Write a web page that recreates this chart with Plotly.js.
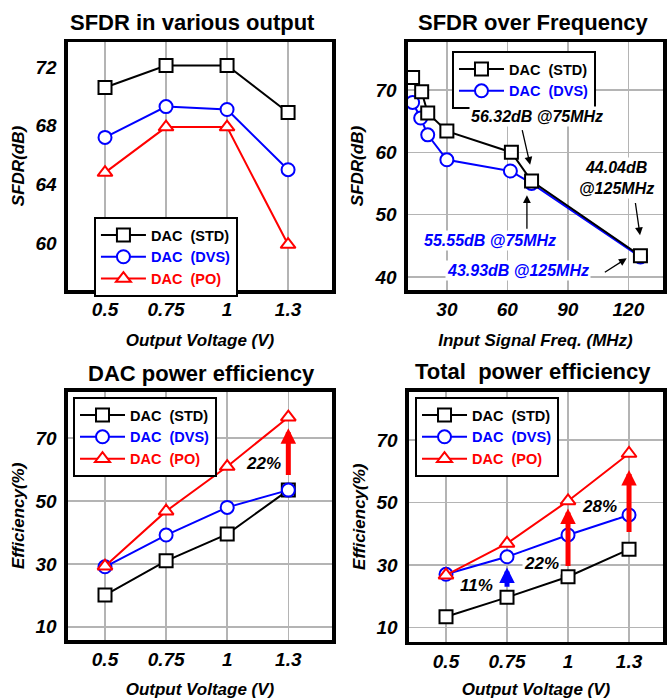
<!DOCTYPE html>
<html>
<head>
<meta charset="utf-8">
<script src="https://cdn.plot.ly/plotly-3.0.1.min.js"></script>
<style>html,body{margin:0;padding:0;background:#fff;}#chart{width:671px;height:699px;}</style>
</head>
<body>
<div id="chart"></div>
<script>
// ---------- data ----------
const volt = ['0.5', '0.75', '1', '1.3'];
const seriesNames = ['DAC\u00a0\u00a0(STD)', 'DAC\u00a0\u00a0(DVS)', 'DAC\u00a0\u00a0(PO)'];

// SFDR in various output (dB)
const sfdrStd = [70.6, 72.1, 72.1, 68.9];
const sfdrDvs = [67.2, 69.3, 69.1, 65.0];
const sfdrPo  = [64.8, 67.9, 67.9, 59.9];

// SFDR over frequency
const freqStd = [13, 17.5, 20.5, 30, 62, 72, 126];
const sfdrFreqStd = [72.0, 69.7, 66.3, 63.4, 60.0, 55.4, 43.4];
const freqDvs = [13, 17, 20.5, 30, 61.5, 72, 126];
const sfdrFreqDvs = [68.0, 65.5, 62.8, 58.8, 57.0, 55.0, 43.2];

// DAC power efficiency (%)
const dacEffStd = [20.1, 31.0, 39.5, 53.5];
const dacEffDvs = [29.1, 39.2, 48.0, 53.5];
const dacEffPo  = [29.3, 46.8, 61.0, 76.7];

// Total power efficiency (%)
const totEffStd = [13.4, 19.6, 26.2, 35.0];
const totEffDvs = [27.0, 32.6, 39.6, 46.0];
const totEffPo  = [26.7, 36.9, 50.5, 65.7];

// subplot titles
const panelTitles = ['SFDR in various output', 'SFDR over Frequency', 'DAC power efficiency', 'Total\u00a0\u00a0power efficiency'];

// SFDR-over-frequency callouts
const calloutText = ['56.32dB @75MHz', '44.04dB<br>@125MHz', '55.55dB @75MHz', '43.93dB @125MHz'];
const calloutX = [74.6, 114.3, 51.2, 65.5];
const calloutY = [65.7, 55.9, 45.8, 41.0];
const calloutColor = ['black', 'black', 'blue', 'blue'];
const pointerHeadX = [71.3, 69.7, 125.8, 119.2];
const pointerHeadY = [58.0, 53.1, 46.7, 43.0];
const pointerTailX = [67.2, 69.7, 123.4, 107.6];
const pointerTailY = [63.8, 47.5, 52.1, 40.6];

// efficiency gain labels and arrows
const dacGainText = ['22%'];
const dacGainX = [2.6]; const dacGainY = [62.0];
const dacArrowCat = ['1.3']; const dacArrowFrom = [57.8]; const dacArrowTo = [73.2]; const dacArrowColor = ['red'];

const totGainText = ['11%', '22%', '28%'];
const totGainX = [0.5, 1.57, 2.51]; const totGainY = [23.5, 30.5, 48.8];
const totArrowCat = ['0.75', '1', '1.3'];
const totArrowFrom = [22.5, 29.2, 40.1];
const totArrowTo = [29.2, 48.1, 60.4];
const totArrowColor = ['blue', 'red', 'red'];

// ---------- styling ----------
const FONT = 'Liberation Sans, Arial, Helvetica, sans-serif';
const colors = ['black', 'blue', 'red'];
const symbols = ['square', 'circle', 'triangle-up'];

function mk(x, y, i, xa, ya, leg) {
  return {
    x: x, y: y, xaxis: xa, yaxis: ya, type: 'scatter', mode: 'lines+markers',
    name: '<span style="color:' + colors[i] + '">' + seriesNames[i] + '</span>',
    legend: leg, showlegend: true, legendrank: i + 1,
    line: {color: colors[i], width: 2},
    marker: {symbol: symbols[i], size: 13, color: 'white', line: {color: colors[i], width: 2}},
    cliponaxis: false
  };
}

const traces = [
  mk(volt, sfdrStd, 0, 'x', 'y', 'legend'),
  mk(volt, sfdrDvs, 1, 'x', 'y', 'legend'),
  mk(volt, sfdrPo, 2, 'x', 'y', 'legend'),
  mk(freqDvs, sfdrFreqDvs, 1, 'x2', 'y2', 'legend2'),
  mk(freqStd, sfdrFreqStd, 0, 'x2', 'y2', 'legend2'),
  mk(volt, dacEffStd, 0, 'x3', 'y3', 'legend3'),
  mk(volt, dacEffDvs, 1, 'x3', 'y3', 'legend3'),
  mk(volt, dacEffPo, 2, 'x3', 'y3', 'legend3'),
  mk(volt, totEffStd, 0, 'x4', 'y4', 'legend4'),
  mk(volt, totEffDvs, 1, 'x4', 'y4', 'legend4'),
  mk(volt, totEffPo, 2, 'x4', 'y4', 'legend4')
];

const tickFont = {family: FONT, size: 19, weight: 'bold', style: 'italic', color: 'black'};
const axTitleFont = {family: FONT, size: 17, weight: 'bold', style: 'italic', color: 'black'};
const GRID = '#b4b4b4';

function xAx(domain, range, titleText, extra) {
  return Object.assign({
    domain: domain, range: range, showline: true, mirror: true, linecolor: 'black', linewidth: 3.5,
    showgrid: true, gridcolor: GRID, gridwidth: 1.5, zeroline: false, ticks: '',
    ticklabelstandoff: 0, tickfont: tickFont, fixedrange: true,
    title: {text: titleText, font: axTitleFont, standoff: 16}
  }, extra);
}
function yAx(domain, range, titleText, extra) {
  return Object.assign({
    domain: domain, range: range, showline: true, mirror: true, linecolor: 'black', linewidth: 3.5,
    showgrid: true, gridcolor: GRID, gridwidth: 1.5, zeroline: false, ticks: '',
    ticklabelstandoff: 4, tickfont: tickFont, fixedrange: true,
    title: {text: titleText, font: axTitleFont, standoff: 7}
  }, extra);
}

function legendAt(x, y) {
  return {x: x, y: y, xanchor: 'left', yanchor: 'top', bgcolor: 'white', bordercolor: 'black', borderwidth: 2,
    font: {family: FONT, size: 14.5, weight: 'bold', color: 'black'}, itemwidth: 45, tracegroupgap: 0,
    traceorder: 'normal', itemclick: false, itemdoubleclick: false};
}

const catX = {type: 'category', categoryorder: 'array', categoryarray: volt};

const annotations = [];
const titlePos = [[0.2872, 0.9685], [0.7958, 0.9685], [0.3006, 0.466], [0.7948, 0.4683]];
panelTitles.forEach((t, i) => annotations.push({
  text: t, xref: 'paper', yref: 'paper', x: titlePos[i][0], y: titlePos[i][1], xanchor: 'center', yanchor: 'middle',
  showarrow: false, font: {family: FONT, size: 22, weight: 'bold', color: 'black'}
}));
calloutText.forEach((t, i) => annotations.push({
  text: t, xref: 'x2', yref: 'y2', x: calloutX[i], y: calloutY[i], showarrow: false, bgcolor: 'white',
  font: {family: FONT, size: 16, weight: 'bold', style: 'italic', color: calloutColor[i]}
}));
pointerHeadX.forEach((hx, i) => annotations.push({
  text: '', xref: 'x2', yref: 'y2', axref: 'x2', ayref: 'y2', x: hx, y: pointerHeadY[i],
  ax: pointerTailX[i], ay: pointerTailY[i], showarrow: true, arrowhead: 2, arrowsize: 1.2, arrowwidth: 1.3, arrowcolor: 'black'
}));
dacGainText.forEach((t, i) => annotations.push({
  text: t, xref: 'x3', yref: 'y3', x: dacGainX[i], y: dacGainY[i], showarrow: false,
  font: {family: FONT, size: 17, weight: 'bold', style: 'italic', color: 'black'}
}));
dacArrowCat.forEach((c, i) => {
  const k = volt.indexOf(c);
  annotations.push({
    text: '', xref: 'x3', yref: 'y3', axref: 'x3', ayref: 'y3', x: k, y: dacArrowTo[i], ax: k, ay: dacArrowFrom[i],
    showarrow: true, arrowhead: 2, arrowsize: 0.62, arrowwidth: 5, arrowcolor: dacArrowColor[i]
  });
});
totGainText.forEach((t, i) => annotations.push({
  text: t, xref: 'x4', yref: 'y4', x: totGainX[i], y: totGainY[i], showarrow: false, bgcolor: 'white',
  font: {family: FONT, size: 17, weight: 'bold', style: 'italic', color: 'black'}
}));
totArrowCat.forEach((c, i) => {
  const k = volt.indexOf(c);
  annotations.push({
    text: '', xref: 'x4', yref: 'y4', axref: 'x4', ayref: 'y4', x: k, y: totArrowTo[i], ax: k, ay: totArrowFrom[i],
    showarrow: true, arrowhead: 2, arrowsize: 0.62, arrowwidth: 5, arrowcolor: totArrowColor[i]
  });
});

const layout = {
  width: 671, height: 699, margin: {l: 0, r: 0, t: 0, b: 0},
  paper_bgcolor: 'white', plot_bgcolor: 'white',
  font: {family: FONT, color: 'black'},
  xaxis: xAx([0.1013, 0.4948], [-0.607, 3.72], 'Output Voltage (V)', Object.assign({anchor: 'y'}, catX)),
  yaxis: yAx([0.5851, 0.9399], [56.8, 73.7], 'SFDR(dB)', {anchor: 'x', tickvals: [60, 64, 68, 72], showgrid: false}),
  yaxis5: {overlaying: 'y', anchor: 'x', range: [56.8, 73.7], tick0: 70.6, dtick: 4.3, showticklabels: false,
    showgrid: true, gridcolor: GRID, gridwidth: 1.5, zeroline: false, showline: false, ticks: '', fixedrange: true},
  xaxis2: xAx([0.6080, 0.9881], [10.7, 137.2], 'Input Signal Freq. (MHz)', {anchor: 'y2', tick0: 0, dtick: 30}),
  yaxis2: yAx([0.5851, 0.9399], [37.9, 77.7], 'SFDR(dB)', {anchor: 'x2', tick0: 0, dtick: 10}),
  xaxis3: xAx([0.1013, 0.4948], [-0.606, 3.715], 'Output Voltage (V)', Object.assign({anchor: 'y3'}, catX)),
  yaxis3: yAx([0.0844, 0.4396], [5.8, 84.8], 'Efficiency(%)', {anchor: 'x3', tick0: 10, dtick: 20}),
  xaxis4: xAx([0.6095, 0.9881], [-0.607, 3.557], 'Output Voltage (V)', Object.assign({anchor: 'y4'}, catX)),
  yaxis4: yAx([0.0820, 0.4396], [5.4, 85.5], 'Efficiency(%)', {anchor: 'x4', tick0: 10, dtick: 20}),
  legend: legendAt(0.140, 0.6896),
  legend2: legendAt(0.6736, 0.927),
  legend3: legendAt(0.1088, 0.432),
  legend4: legendAt(0.6185, 0.432),
  annotations: annotations,
  showlegend: true
};

Plotly.newPlot('chart', traces, layout, {displayModeBar: false, staticPlot: true});
</script>
</body>
</html>
